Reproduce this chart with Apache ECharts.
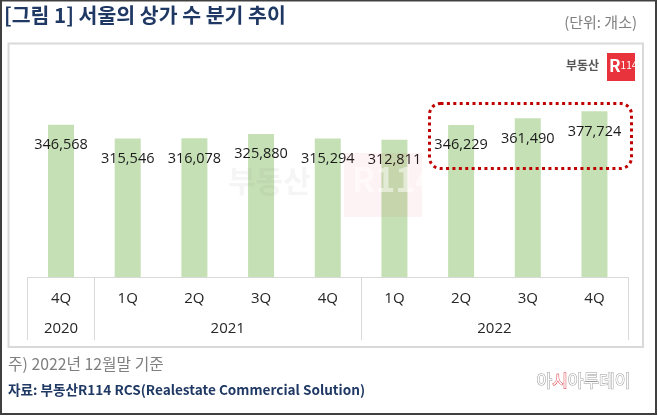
<!DOCTYPE html>
<html>
<head>
<meta charset="utf-8">
<script src="https://cdn.jsdelivr.net/npm/echarts@6/dist/echarts.min.js"></script>
<style>
  html, body { margin: 0; padding: 0; background: #fff; }
  #chart { width: 658px; height: 416px; }
</style>
</head>
<body>
<div id="chart"></div>
<script>
var quarters = ['4Q', '1Q', '2Q', '3Q', '4Q', '1Q', '2Q', '3Q', '4Q'];
var quarterYears = ['2020', '2021', '2021', '2021', '2021', '2022', '2022', '2022', '2022'];
var storeCounts = [346568, 315546, 316078, 325880, 315294, 312811, 346229, 361490, 377724];

var FONT = '"Noto Sans CJK KR", "Noto Sans", sans-serif';
var NUM_FONT = '"Open Sans", "Noto Sans CJK KR", sans-serif';

// year groups -> label centre and boundary ticks on a -0.5..n-0.5 value axis
var yearCenters = [];
var yearBounds = [-0.5];
var yearNames = {};
var start = 0;
for (var i = 1; i <= quarterYears.length; i++) {
    if (i === quarterYears.length || quarterYears[i] !== quarterYears[start]) {
        var c = (start + i - 1) / 2;
        yearCenters.push(c);
        yearNames[c] = quarterYears[start];
        yearBounds.push(i - 0.5);
        start = i;
    }
}

var chart = echarts.init(document.getElementById('chart'));

var option = {
    animation: false,
    backgroundColor: '#fff',
    textStyle: { fontFamily: FONT },
    grid: {
        left: 27.7,
        right: 30.2,
        top: 101.4,
        bottom: 139,
        containLabel: false,
        outerBoundsMode: 'none'
    },
    xAxis: [
        {
            type: 'category',
            data: quarters,
            axisLine: { lineStyle: { color: '#d9d9d9', width: 1 } },
            axisTick: { show: false },
            axisLabel: { color: '#262626', fontSize: 15, margin: 14, fontFamily: NUM_FONT }
        },
        {
            type: 'value',
            min: -0.5,
            max: quarters.length - 0.5,
            position: 'bottom',
            splitLine: { show: false },
            axisLine: { show: false },
            axisTick: {
                show: true,
                customValues: yearBounds,
                length: 63,
                lineStyle: { color: '#d9d9d9', width: 1 }
            },
            axisLabel: {
                customValues: yearCenters,
                formatter: function (v) { return yearNames[v] || ''; },
                color: '#262626',
                fontSize: 15,
                margin: 44,
                fontFamily: NUM_FONT
            }
        }
    ],
    yAxis: {
        type: 'value',
        min: 0,
        max: 400000,
        show: false,
        splitLine: { show: false }
    },
    series: [
        {
            type: 'bar',
            data: storeCounts,
            barWidth: 26,
            itemStyle: { color: '#c5e0b4' },
            label: {
                show: true,
                position: 'insideTop',
                distance: 13,
                color: '#1a1a1a',
                fontSize: 14.5,
                fontFamily: NUM_FONT,
                formatter: function (p) { return p.value.toLocaleString('en-US'); }
            }
        }
    ],
    graphic: [
        // outer frame
        { type: 'rect', shape: { x: 1, y: 0.5, width: 655, height: 413.5 },
          style: { fill: 'none', stroke: '#404040', lineWidth: 2 }, z: 100 },
        // chart box
        { type: 'rect', shape: { x: 8.5, y: 43.5, width: 634.5, height: 303.5 },
          style: { fill: 'none', stroke: '#d9d9d9', lineWidth: 2 }, z: -1 },
        // title
        { type: 'text', left: 4, top: 5,
          style: { text: '[그림 1] 서울의 상가 수 분기 추이', fill: '#1f3864',
                   font: 'bold 20.5px ' + FONT } },
        { type: 'text', right: 21, top: 15,
          style: { text: '(단위: 개소)', fill: '#7f7f7f', font: '15px ' + FONT } },
        // top-right logo
        { type: 'text', left: 566, top: 59,
          style: { text: '부동산', fill: '#555', font: 'bold 12px ' + FONT } },
        { type: 'rect', shape: { x: 607, y: 53, width: 28, height: 28 },
          style: { fill: '#e8333d' } },
        { type: 'text', left: 609, top: 57,
          style: { text: '{r|R}{n|114}', fill: '#fff',
                   rich: { r: { fontSize: 17, fontWeight: 'bold', fill: '#fff', fontFamily: FONT },
                           n: { fontSize: 10, fill: '#fff', fontFamily: FONT } } } },
        // faint watermark
        { type: 'text', left: 228, top: 166, z: 20,
          style: { text: '부동산', fill: 'rgba(120,120,120,0.07)', font: 'bold 30px ' + FONT } },
        { type: 'rect', z: 20, shape: { x: 344, y: 153, width: 78, height: 64 },
          style: { fill: 'rgba(232,51,61,0.06)' } },
        { type: 'text', left: 352, top: 162, z: 21,
          style: { text: 'R114', fill: 'rgba(255,255,255,0.5)', font: 'bold 34px ' + FONT } },
        // highlight box around the last three quarters
        { type: 'rect', z: 30, shape: { x: 429.5, y: 103.5, width: 202, height: 65, r: 11 },
          style: { fill: 'none', stroke: '#c00000', lineWidth: 3, lineDash: [3, 3.4] } },
        // notes
        { type: 'text', left: 8, top: 356,
          style: { text: '주) 2022년 12월말 기준', fill: '#7f7f7f', font: '15.8px ' + FONT } },
        { type: 'text', left: 8, top: 383,
          style: { text: '자료: 부동산R114 RCS(Realestate Commercial Solution)', fill: '#1f3864',
                   font: 'bold 13.6px ' + FONT } },
        { type: 'text', left: 536, top: 372,
          style: { text: '{a|아}{r|시}{a|아투데이}',
                   rich: { a: { fontSize: 17, fill: '#fff', stroke: '#9a9a9a', lineWidth: 1, fontFamily: FONT },
                           r: { fontSize: 17, fill: '#fff', stroke: '#d9232d', lineWidth: 1, fontFamily: FONT } } } }
    ]
};

chart.setOption(option);
</script>
</body>
</html>
